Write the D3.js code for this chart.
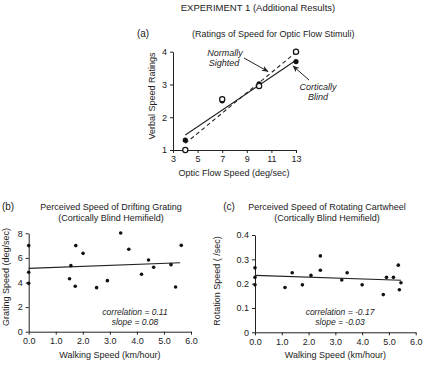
<!DOCTYPE html>
<html>
<head>
<meta charset="utf-8">
<script src="https://cdn.jsdelivr.net/npm/d3@7"></script>
<style>
  body { margin: 0; background: #fff; }
  text { font-family: "Liberation Sans", Arial, sans-serif; fill: #222; }
  .axis path, .axis line { stroke: #222; }
  .axis text { font-size: 9px; fill: #222; }
</style>
</head>
<body>
<div id="chart"></div>
<script>
// panel (a): ratings of optic flow speed
let flowSpeeds = [4, 7, 10, 13];
let sightedRatings = [1.0, 2.55, 2.95, 4.0];
let blindRatings = [1.3, 2.5, 3.02, 3.7];
let sightedFit = [[4, 1.2], [13, 3.98]];
let blindFit = [[4, 1.46], [13, 3.74]];
let flowTicks = [3, 5, 7, 9, 11, 13];
let ratingTicks = [1, 2, 3, 4];

// panel (b): drifting grating vs walking speed
let gratingWalk = [0, 0, 0, 1.51, 1.56, 1.74, 1.72, 2.01, 2.51, 2.91, 3.40, 3.70, 4.17, 4.43, 4.62, 5.26, 5.43, 5.64];
let gratingSpeed = [7.0, 4.83, 3.93, 4.31, 5.37, 7.0, 3.69, 6.37, 3.58, 4.15, 8.03, 6.70, 4.67, 5.83, 5.24, 5.45, 3.64, 7.02];
let gratingFit = [[0, 5.15], [5.6, 5.6]];
let gratingTicks = [0, 2, 4, 6, 8];

// panel (c): rotating cartwheel vs walking speed
let wheelWalk = [0, 0, 0, 1.12, 1.39, 1.77, 2.09, 2.44, 2.44, 3.24, 3.44, 4.0, 4.79, 4.91, 5.17, 5.35, 5.39, 5.45];
let wheelSpeed = [0.265, 0.226, 0.195, 0.184, 0.245, 0.195, 0.234, 0.314, 0.255, 0.215, 0.245, 0.195, 0.155, 0.226, 0.226, 0.276, 0.175, 0.204];
let wheelFit = [[0, 0.234], [5.45, 0.214]];
let wheelTicks = [0, 0.1, 0.2, 0.3, 0.4];
let walkTicks = [0, 1, 2, 3, 4, 5, 6];

let svg = d3.select("#chart")
            .append("svg")
            .attr("width", 425)
            .attr("height", 376);

svg.append("defs").append("marker")
   .attr("id", "arrow")
   .attr("viewBox", "0 0 10 10")
   .attr("refX", 9).attr("refY", 5)
   .attr("markerWidth", 7).attr("markerHeight", 7)
   .attr("orient", "auto")
   .append("path")
   .attr("d", "M0,1 L10,5 L0,9 L3,5 Z")
   .style("fill", "#222");

svg.append("text")
   .attr("x", 258).attr("y", 11)
   .attr("text-anchor", "middle")
   .style("font-size", "9.5px")
   .text("EXPERIMENT 1 (Additional Results)");

function label(x, y, s, size, opts) {
    let t = svg.append("text")
               .attr("x", x).attr("y", y)
               .attr("text-anchor", (opts && opts.anchor) || "middle")
               .style("font-size", size + "px")
               .text(s);
    if (opts && opts.italic) t.style("font-style", "italic");
    if (opts && opts.rotate) t.attr("transform", "rotate(-90," + x + "," + y + ")");
    return t;
}

// ---- panel (a)
let xa = d3.scaleLinear().domain([3, 13]).range([173, 296]);
let ya = d3.scaleLinear().domain([1, 4]).range([150, 51.7]);

svg.append("g").attr("class", "axis")
   .attr("transform", "translate(0,150)")
   .call(d3.axisBottom(xa).tickValues(flowTicks).tickSize(3).tickSizeOuter(0));
svg.append("g").attr("class", "axis")
   .attr("transform", "translate(173,0)")
   .call(d3.axisLeft(ya).tickValues(ratingTicks).tickFormat(d3.format("d")).tickSize(3).tickSizeOuter(0));

label(143, 37, "(a)", 10);
label(192, 37, "(Ratings of Speed for Optic Flow Stimuli)", 9, {anchor: "start"});
label(155, 96, "Verbal Speed Ratings", 9, {rotate: true});
label(234, 176, "Optic Flow Speed (deg/sec)", 9);

let line = d3.line().x(d => xa(d[0])).y(d => ya(d[1]));
svg.append("path").attr("d", line(sightedFit))
   .style("fill", "none").style("stroke", "#222").style("stroke-width", 1.1)
   .style("stroke-dasharray", "4,3");
svg.append("path").attr("d", line(blindFit))
   .style("fill", "none").style("stroke", "#222").style("stroke-width", 1.1);

svg.append("g").selectAll("circle")
   .data(flowSpeeds)
   .enter().append("circle")
   .attr("cx", d => xa(d))
   .attr("cy", (d, i) => ya(blindRatings[i]))
   .attr("r", 2.6)
   .style("fill", "#111");
svg.append("g").selectAll("circle")
   .data(flowSpeeds)
   .enter().append("circle")
   .attr("cx", d => xa(d))
   .attr("cy", (d, i) => ya(sightedRatings[i]))
   .attr("r", 2.6)
   .style("fill", "#fff")
   .style("stroke", "#111")
   .style("stroke-width", 1.2);

label(225, 56, "Normally", 9, {italic: true});
label(224, 66, "Sighted", 9, {italic: true});
label(318, 90, "Cortically", 9, {italic: true});
label(318, 100, "Blind", 9, {italic: true});

svg.append("line").attr("x1", 244).attr("y1", 58).attr("x2", 268).attr("y2", 71.5)
   .style("stroke", "#222").attr("marker-end", "url(#arrow)");
svg.append("line").attr("x1", 309).attr("y1", 80).attr("x2", 293).attr("y2", 66)
   .style("stroke", "#222").attr("marker-end", "url(#arrow)");

// ---- scatter panels (b) and (c)
function scatter(p) {
    let x = d3.scaleLinear().domain([0, 6]).range([p.x0, p.x1]);
    let y = d3.scaleLinear().domain(p.ydom).range([p.y0, p.y1]);

    svg.append("g").attr("class", "axis")
       .attr("transform", "translate(0," + p.y0 + ")")
       .call(d3.axisBottom(x).tickValues(walkTicks).tickSize(3).tickSizeOuter(0));
    svg.append("g").attr("class", "axis")
       .attr("transform", "translate(" + p.x0 + ",0)")
       .call(d3.axisLeft(y).tickValues(p.yticks).tickFormat(p.fmt).tickSize(3).tickSizeOuter(0));

    svg.append("path")
       .attr("d", d3.line().x(d => x(d[0])).y(d => y(d[1]))(p.fit))
       .style("fill", "none").style("stroke", "#222").style("stroke-width", 1.1);

    svg.append("g").selectAll("circle")
       .data(p.xs)
       .enter().append("circle")
       .attr("cx", d => x(d))
       .attr("cy", (d, i) => y(p.ys[i]))
       .attr("r", 1.8)
       .style("fill", "#111");

    label(p.tag[0], 210, p.tag[1], 10);
    label(p.tx, 210, p.title, 9);
    label(p.tx, 221, "(Cortically Blind Hemifield)", 9);
    label(p.ylx, p.yly, p.ylabel, 9, {rotate: true});
    label((p.x0 + p.x1) / 2, 358, "Walking Speed (km/hour)", 9);
    label(p.cx, 315, p.corr, 8.5, {italic: true});
    label(p.cx, 325, p.slope, 8.5, {italic: true});
}

scatter({
    x0: 28.7, x1: 191, y0: 331.7, y1: 233.3, ydom: [0, 8],
    yticks: gratingTicks, fmt: d3.format("d"),
    xs: gratingWalk, ys: gratingSpeed, fit: gratingFit,
    tag: [8, "(b)"], tx: 111, title: "Perceived Speed of Drifting Grating",
    ylx: 9, yly: 277, ylabel: "Grating Speed (deg/sec)",
    cx: 135, corr: "correlation = 0.11", slope: "slope = 0.08"
});

scatter({
    x0: 255, x1: 415.7, y0: 332.3, y1: 235, ydom: [0, 0.4],
    yticks: wheelTicks, fmt: d => d === 0 ? "0" : d3.format(".1f")(d),
    xs: wheelWalk, ys: wheelSpeed, fit: wheelFit,
    tag: [229, "(c)"], tx: 327, title: "Perceived Speed of Rotating Cartwheel",
    ylx: 220, yly: 281, ylabel: "Rotation Speed ( /sec)",
    cx: 340, corr: "correlation = -0.17", slope: "slope = -0.03"
});
</script>
</body>
</html>
